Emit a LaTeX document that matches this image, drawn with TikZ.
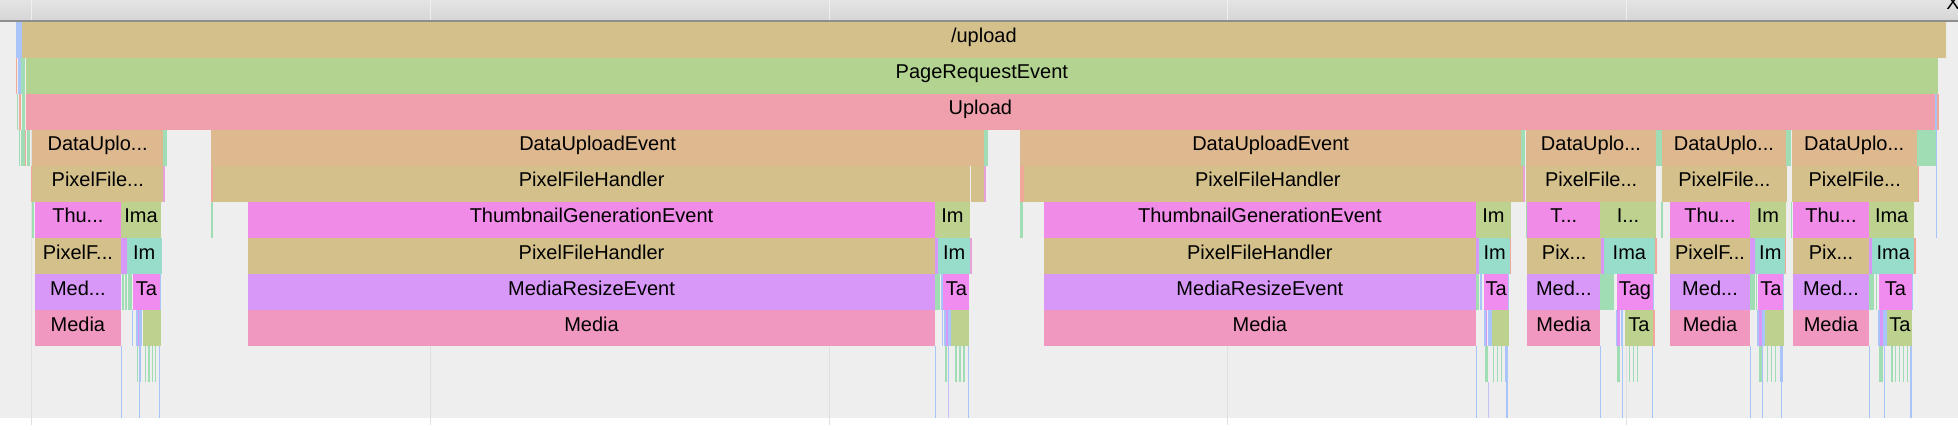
\documentclass[tikz,border=0pt]{standalone}
\usepackage{fontspec}
\setmainfont{Liberation Sans}
\usepackage{tikz}
\usetikzlibrary{calc}

\definecolor{cTan}{HTML}{D3C08A}
\definecolor{cPRE}{HTML}{B2D490}
\definecolor{cUp}{HTML}{F0A0AC}
\definecolor{cDUE}{HTML}{DEB88E}
\definecolor{cThumb}{HTML}{F08CE8}
\definecolor{cIma}{HTML}{BCD28E}
\definecolor{cIm}{HTML}{98DCCC}
\definecolor{cMed}{HTML}{D898F8}
\definecolor{cTa}{HTML}{F08CF0}
\definecolor{cMedia}{HTML}{F098C0}
\definecolor{sg}{HTML}{A0DCB4}
\definecolor{sb}{HTML}{A8C4F8}
\definecolor{sl}{HTML}{C4C4F4}
\definecolor{sr}{HTML}{F0A898}
\definecolor{sp}{HTML}{E8A0D8}
\definecolor{bg}{HTML}{EEEEEE}
\definecolor{hdtop}{HTML}{E4E4E4}
\definecolor{hdbot}{HTML}{D6D6D6}
\definecolor{hdline}{HTML}{8E8E8E}

% x1, x2, row, colour, name, text
\newcommand{\flamebar}[6]{%
  \node[flame, fill=#4, minimum width={(#2-#1)*1pt}] (#5) at (#1,{22+36*(#3-1)}) {#6};}

\begin{document}
\begin{tikzpicture}[x=1pt, y=-1pt,
    flame/.style={anchor=north west, inner sep=0pt, outer sep=0pt,
      minimum height=36pt, text height=12pt, text depth=6pt,
      font=\fontsize{20}{24}\selectfont},
    gridline/.style={draw=#1, line width=0.8pt}]
		\useasboundingbox (0,0) rectangle (1958,430);
		\fill[white] (0,0) rectangle (1958,430);
		
		% header
		\shade[top color=hdtop, bottom color=hdbot] (0,0) rectangle (1958,20);
		\foreach \gx in {31.7,430,829,1227.5,1626}
			\draw[gridline=hdtop!60!white] (\gx,0) -- (\gx,20);
		\fill[hdline] (0,20) rectangle (1958,22);
		\node[anchor=base, font=\fontsize{20}{24}\selectfont] (closex) at (1953,10) {X};
		
		% body
		\fill[bg] (0,22) rectangle (1958,418);
		\foreach \gx in {31.7,430,829,1227.5,1626}
			\draw[gridline=black!12] (\gx,22) -- (\gx,425);
		
		% slivers: row/x1/x2/colour
		\foreach \r/\a/\b/\col in {
			1/16/22/sb, 2/15.7/17/sr, 2/17.7/21/sb, 2/21.3/24.7/sg,
			3/16.7/17.3/sg, 3/19/21/sr, 3/21.7/25/sg,
			4/19/20/sg, 4/20.7/25/sg, 4/25/25.7/sr, 4/26.7/30/sg,
			5/31.3/32.3/sr, 6/31.7/33.7/sg,
			3/1935/1937/sb, 3/1937/1939/sr, 4/1917/1936/sg, 4/1936/1937/sb,
			5/1917.7/1919/sr, 5/1936.3/1937/sb, 6/1936.3/1937/sb,
			4/163.3/167/sg, 5/163.3/164.8/sp, 7/121/126.7/cMed,
			8/121.7/124/sg, 8/125.3/126.7/sg, 8/128/131.7/sg, 8/160/161/sb,
			9/131.7/133.3/sb, 9/136/138.3/sb, 9/138.3/139.3/cMed, 9/139.3/142.3/sb, 9/143.3/160.7/cIma,
			10/121/122/sb, 10/136.7/138.3/sg, 10/139/141/sb, 10/145/146.3/sg, 10/148.3/149.7/sg,
			10/151.7/153/sg, 10/155/156.3/sg, 10/158.7/160.3/sb,
			11/121/122/sb, 11/139.3/140.3/sb, 11/158.7/160/sb,
			5/211/213.3/sr, 6/210.7/213/sg,
			4/984.3/987.7/sg, 5/970.7/984.3/cTan, 5/984.3/986/sp,
			5/1020/1024/sr, 6/1020/1023/sg,
			7/935/938.3/cMed, 7/970/972/sp, 8/935/940/sg, 8/941/943/sb,
			9/941.7/943/sb, 9/944/946/sb, 9/946/947.7/cMed, 9/948/951/sb, 9/951/969.3/cIma,
			10/935/936/sb, 10/944.7/947/sg, 10/948/949/sb, 10/955.3/956.7/sg, 10/959.3/960.7/sg,
			10/963.3/964.7/sg, 10/968/969.3/sb,
			11/935/936/sb, 11/948/949/sl, 11/968/969.3/sb,
			4/1521.3/1525.3/sg, 5/1512.3/1522.7/cTan, 5/1522.7/1525/sp, 6/1526/1527.3/sg,
			7/1476/1479.3/cMed, 7/1510/1511.3/sr,
			8/1476/1479/sg, 8/1480/1481.7/sb, 8/1508/1509/sb,
			9/1484/1486/sb, 9/1486/1487.3/cMed, 9/1487.7/1491.7/sb, 9/1491.7/1509/cIma,
			10/1476/1477/sb, 10/1485.3/1487.7/sg, 10/1493/1494.3/sg, 10/1497/1498.3/sg,
			10/1501/1502.3/sg, 10/1505.3/1508.3/sb,
			11/1476/1477/sb, 11/1487.7/1489.3/sl, 11/1505.7/1508/sb,
			4/1656/1661.7/sg, 6/1661/1663/sg,
			7/1601/1603.7/cMed, 7/1655/1657/sr,
			8/1600.3/1614/sg, 8/1653/1654/sb,
			9/1615.7/1617/sb, 9/1617/1620/cMed, 9/1621/1623.3/sb, 9/1653/1655/sr,
			10/1600/1601.3/sb, 10/1617.3/1620.3/sg, 10/1622/1623.3/sb, 10/1629/1630.3/sg,
			10/1633/1634.3/sg, 10/1637/1638.3/sg, 10/1651.7/1653/sb,
			11/1600/1601.3/sb, 11/1622.3/1623.3/sb, 11/1651.7/1653/sb,
			4/1785.7/1791/sg, 6/1790.7/1791.3/sg,
			7/1750/1755.3/cMed, 7/1785.3/1786.3/sr,
			8/1750/1755/sg, 8/1756/1757/sg, 8/1783.3/1784.3/sb,
			9/1757/1759/sb, 9/1759/1762/cMed, 9/1762/1765/sb, 9/1765/1784/cIma,
			10/1750/1751/sb, 10/1758.7/1762/sg, 10/1762/1763/sb, 10/1767/1768.3/sg,
			10/1771/1772.3/sg, 10/1775/1776.3/sg, 10/1780/1783/sb,
			11/1750/1751/sb, 11/1761.7/1763/sb, 11/1780.7/1782/sb,
			7/1869.3/1872.3/cMed, 7/1914.3/1916/sr,
			8/1869.3/1874/sg, 8/1876/1877/sg, 8/1912.3/1913.3/sb,
			9/1878/1880/sb, 9/1880/1882.7/cMed, 9/1883/1887.3/sb,
			10/1869/1870/sb, 10/1879/1883/sg, 10/1884/1885/sb, 10/1891.3/1893/sg, 10/1895/1896.3/sg,
			10/1899/1900.3/sg, 10/1903/1904.3/sg, 10/1907/1908.3/sg, 10/1910/1912/sb,
			11/1869/1870/sb, 11/1884/1885/sb, 11/1910.3/1912/sb}
			\fill[fill=\col] (\a,{22+36*(\r-1)}) rectangle (\b,{22+36*\r});
		
		% call stack
		\flamebar{22}{1945.7}{1}{cTan}{upload}{/upload}
		\flamebar{25.7}{1938}{2}{cPRE}{pre}{PageRequestEvent}
		\flamebar{25.7}{1935}{3}{cUp}{upl}{Upload}
		
		\flamebar{32}{163.3}{4}{cDUE}{due1}{DataUplo...}
		\flamebar{211}{984.3}{4}{cDUE}{due2}{DataUploadEvent}
		\flamebar{1020}{1521.3}{4}{cDUE}{due3}{DataUploadEvent}
		\flamebar{1526}{1656}{4}{cDUE}{due4}{DataUplo...}
		\flamebar{1662}{1785.7}{4}{cDUE}{due5}{DataUplo...}
		\flamebar{1791.7}{1916.7}{4}{cDUE}{due6}{DataUplo...}
		
		\flamebar{32.3}{163.3}{5}{cTan}{pfh1}{PixelFile...}
		\flamebar{213.3}{970}{5}{cTan}{pfh2}{PixelFileHandler}
		\flamebar{1024}{1511.7}{5}{cTan}{pfh3}{PixelFileHandler}
		\flamebar{1526}{1656.3}{5}{cTan}{pfh4}{PixelFile...}
		\flamebar{1662}{1786.7}{5}{cTan}{pfh5}{PixelFile...}
		\flamebar{1791.7}{1917.7}{5}{cTan}{pfh6}{PixelFile...}
		
		\flamebar{34.7}{121}{6}{cThumb}{tge1}{Thu...}
		\flamebar{121}{161}{6}{cIma}{ima1}{Ima}
		\flamebar{248}{935}{6}{cThumb}{tge2}{ThumbnailGenerationEvent}
		\flamebar{935}{970}{6}{cIma}{ima2}{Im}
		\flamebar{1044}{1475.7}{6}{cThumb}{tge3}{ThumbnailGenerationEvent}
		\flamebar{1475.7}{1511}{6}{cIma}{ima3}{Im}
		\flamebar{1527.3}{1600.3}{6}{cThumb}{tge4}{T...}
		\flamebar{1600.3}{1655.7}{6}{cIma}{ima4}{I...}
		\flamebar{1670}{1750}{6}{cThumb}{tge5}{Thu...}
		\flamebar{1750}{1785.7}{6}{cIma}{ima5}{Im}
		\flamebar{1792.7}{1869.3}{6}{cThumb}{tge6}{Thu...}
		\flamebar{1869.3}{1914}{6}{cIma}{ima6}{Ima}
		
		\flamebar{34.7}{121}{7}{cTan}{pf1}{PixelF...}
		\flamebar{126.7}{161.7}{7}{cIm}{im1}{Im}
		\flamebar{248}{935}{7}{cTan}{pf2}{PixelFileHandler}
		\flamebar{938.3}{970}{7}{cIm}{im2}{Im}
		\flamebar{1044}{1475.7}{7}{cTan}{pf3}{PixelFileHandler}
		\flamebar{1479.3}{1510}{7}{cIm}{im3}{Im}
		\flamebar{1527.3}{1601}{7}{cTan}{pf4}{Pix...}
		\flamebar{1603.7}{1655}{7}{cIm}{im4}{Ima}
		\flamebar{1670}{1750}{7}{cTan}{pf5}{PixelF...}
		\flamebar{1755.3}{1785.3}{7}{cIm}{im5}{Im}
		\flamebar{1792.7}{1869.3}{7}{cTan}{pf6}{Pix...}
		\flamebar{1872.3}{1914.3}{7}{cIm}{im6}{Ima}
		
		\flamebar{34.7}{121}{8}{cMed}{mre1}{Med...}
		\flamebar{133}{160}{8}{cTa}{tag1}{Ta}
		\flamebar{248}{935}{8}{cMed}{mre2}{MediaResizeEvent}
		\flamebar{943.3}{969.3}{8}{cTa}{tag2}{Ta}
		\flamebar{1044}{1475.7}{8}{cMed}{mre3}{MediaResizeEvent}
		\flamebar{1484.3}{1508}{8}{cTa}{tag3}{Ta}
		\flamebar{1527.3}{1600.3}{8}{cMed}{mre4}{Med...}
		\flamebar{1616.7}{1653}{8}{cTa}{tag4}{Tag}
		\flamebar{1670}{1750}{8}{cMed}{mre5}{Med...}
		\flamebar{1758.3}{1783.3}{8}{cTa}{tag5}{Ta}
		\flamebar{1792.7}{1869.3}{8}{cMed}{mre6}{Med...}
		\flamebar{1878.7}{1912.3}{8}{cTa}{tag6}{Ta}
		
		\flamebar{34.7}{121}{9}{cMedia}{med1}{Media}
		\flamebar{248}{935}{9}{cMedia}{med2}{Media}
		\flamebar{1044}{1475.7}{9}{cMedia}{med3}{Media}
		\flamebar{1527.3}{1600}{9}{cMedia}{med4}{Media}
		\flamebar{1625}{1653}{9}{cIma}{ta4}{Ta}
		\flamebar{1670}{1750}{9}{cMedia}{med5}{Media}
		\flamebar{1792.7}{1869.3}{9}{cMedia}{med6}{Media}
		\flamebar{1887.3}{1912.3}{9}{cIma}{ta6}{Ta}
	\end{tikzpicture}
\end{document}
